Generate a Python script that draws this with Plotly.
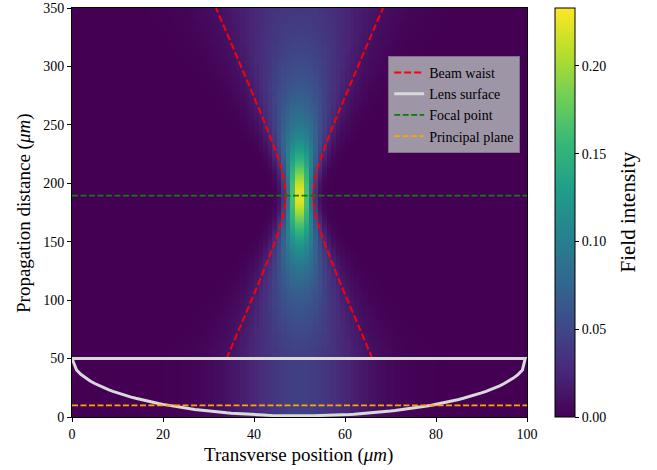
import numpy as np
import plotly.graph_objects as go

# ---- values ----
x_cells = np.arange(0.5, 100.0, 1.0)        # transverse sample centres (um)
z_cells = np.arange(0.5, 350.0, 1.0)        # propagation sample centres (um)
beam_center = 50.0                           # um
waist_um = 3.0                               # beam waist w0 (um)
rayleigh_um = 26.6                           # Rayleigh range (um)
focus_z = 189.5                              # focal point (um)
lens_top = 50.0                              # flat lens face (um)
lens_vertex = 1.0                            # lowest point of curved face (um)
lens_half_width = 50.0                       # um
principal_z = 10.0                           # principal plane (um)
peak_intensity = 0.233                       # colour-bar maximum
profile_k = 1.4
lens_x = np.arange(0, 100, 1.0)              # sampled lens profile positions
waist_z = np.linspace(50, 350, 301)          # beam-waist curve samples

x_ticks = [0, 20, 40, 60, 80, 100]
y_ticks = [0, 50, 100, 150, 200, 250, 300, 350]
cb_ticks = [0.0, 0.05, 0.10, 0.15, 0.20]
cb_ticktext = ["0.00", "0.05", "0.10", "0.15", "0.20"]


def beam_width(z):
    return waist_um * np.sqrt(1 + ((z - focus_z) / rayleigh_um) ** 2)


# field intensity map
zz = np.maximum(z_cells, lens_top)
W = beam_width(zz)[:, None]
intensity = peak_intensity * (waist_um / W) * np.exp(-profile_k * ((x_cells[None, :] - beam_center) / W) ** 2)

# lens outline
lens_y = lens_top - (lens_top - lens_vertex) * np.sqrt(
    np.clip(1 - ((lens_x - beam_center) / lens_half_width) ** 2, 0, None))
lens_px = list(lens_x) + [lens_x[-1] + 0.6, 0.0]
lens_py = list(lens_y) + [lens_top, lens_top]

wz = beam_width(waist_z)

FONT = "Liberation Serif"
L, R, T, B = 72, 130, 8, 53
PW = 657 - L - R
PH = 470 - T - B


def px_x(p):
    return (p - L) / PW


def px_y(p):
    return (470 - B - p) / PH


fig = go.Figure()
fig.add_trace(go.Heatmap(
    x=x_cells, y=z_cells, z=intensity, colorscale="Viridis", zmin=0, zmax=peak_intensity,
    hoverinfo="skip", showscale=True,
    colorbar=dict(
        thickness=20, len=1.0, lenmode="fraction", x=px_x(555), xanchor="left",
        y=0.5, yanchor="middle", xpad=0, ypad=0,
        outlinewidth=1, outlinecolor="black",
        ticks="outside", ticklen=4, tickcolor="black",
        tickvals=cb_ticks, ticktext=cb_ticktext,
        tickfont=dict(family=FONT, size=14, color="black"),
    ),
))

fig.add_trace(go.Scatter(
    x=beam_center - wz, y=waist_z, mode="lines", name="Beam waist",
    line=dict(color="red", width=2, dash="7px,3px"), hoverinfo="skip"))
fig.add_trace(go.Scatter(
    x=beam_center + wz, y=waist_z, mode="lines", name="Beam waist", showlegend=False,
    line=dict(color="red", width=2, dash="7px,3px"), hoverinfo="skip"))
fig.add_trace(go.Scatter(
    x=lens_px, y=lens_py, mode="lines", name="Lens surface",
    line=dict(color="#d9d9d9", width=3), hoverinfo="skip"))
fig.add_trace(go.Scatter(
    x=[0, 100], y=[focus_z, focus_z], mode="lines", name="Focal point",
    line=dict(color="#0a7d0a", width=1.7, dash="6px,2.5px"), hoverinfo="skip"))
fig.add_trace(go.Scatter(
    x=[0, 100], y=[principal_z, principal_z], mode="lines", name="Principal plane",
    line=dict(color="#ffa500", width=1.7, dash="6px,2.5px"), hoverinfo="skip"))

axis_common = dict(
    showline=True, linecolor="black", linewidth=1, mirror=True, automargin=False,
    ticks="outside", ticklen=4, tickcolor="black", showgrid=False, zeroline=False,
    tickfont=dict(family=FONT, size=14, color="black"),
)

fig.update_layout(
    width=657, height=470,
    margin=dict(l=L, r=R, t=T, b=B, autoexpand=False),
    paper_bgcolor="white", plot_bgcolor="white",
    font=dict(family=FONT, color="black"),
    xaxis=dict(range=[0, 100], tickvals=x_ticks, **axis_common),
    yaxis=dict(range=[0, 350], tickvals=y_ticks, **axis_common),
    legend=dict(x=0.985, xanchor="right", y=0.883, yanchor="top",
                bgcolor="#9e96a7", bordercolor="#7a7480", borderwidth=1,
                font=dict(family=FONT, size=14, color="black"),
                tracegroupgap=0),
    annotations=[
        dict(text="Field intensity", textangle=-90, showarrow=False,
             xref="paper", yref="paper", x=px_x(627), y=0.5,
             xanchor="center", yanchor="middle",
             font=dict(family=FONT, size=21, color="black")),
        dict(text="Propagation distance (<i>μm</i>)", textangle=-90, showarrow=False,
             xref="paper", yref="paper", x=px_x(24), y=px_y(213),
             xanchor="center", yanchor="middle",
             font=dict(family=FONT, size=19, color="black")),
        dict(text="Transverse position (<i>μm</i>)", showarrow=False,
             xref="paper", yref="paper", x=px_x(298), y=px_y(455),
             xanchor="center", yanchor="middle",
             font=dict(family=FONT, size=19, color="black")),
    ],
    showlegend=True,
)

fig.write_html("out.html", config={"displayModeBar": False},
               post_script="document.body.style.margin='0';")
